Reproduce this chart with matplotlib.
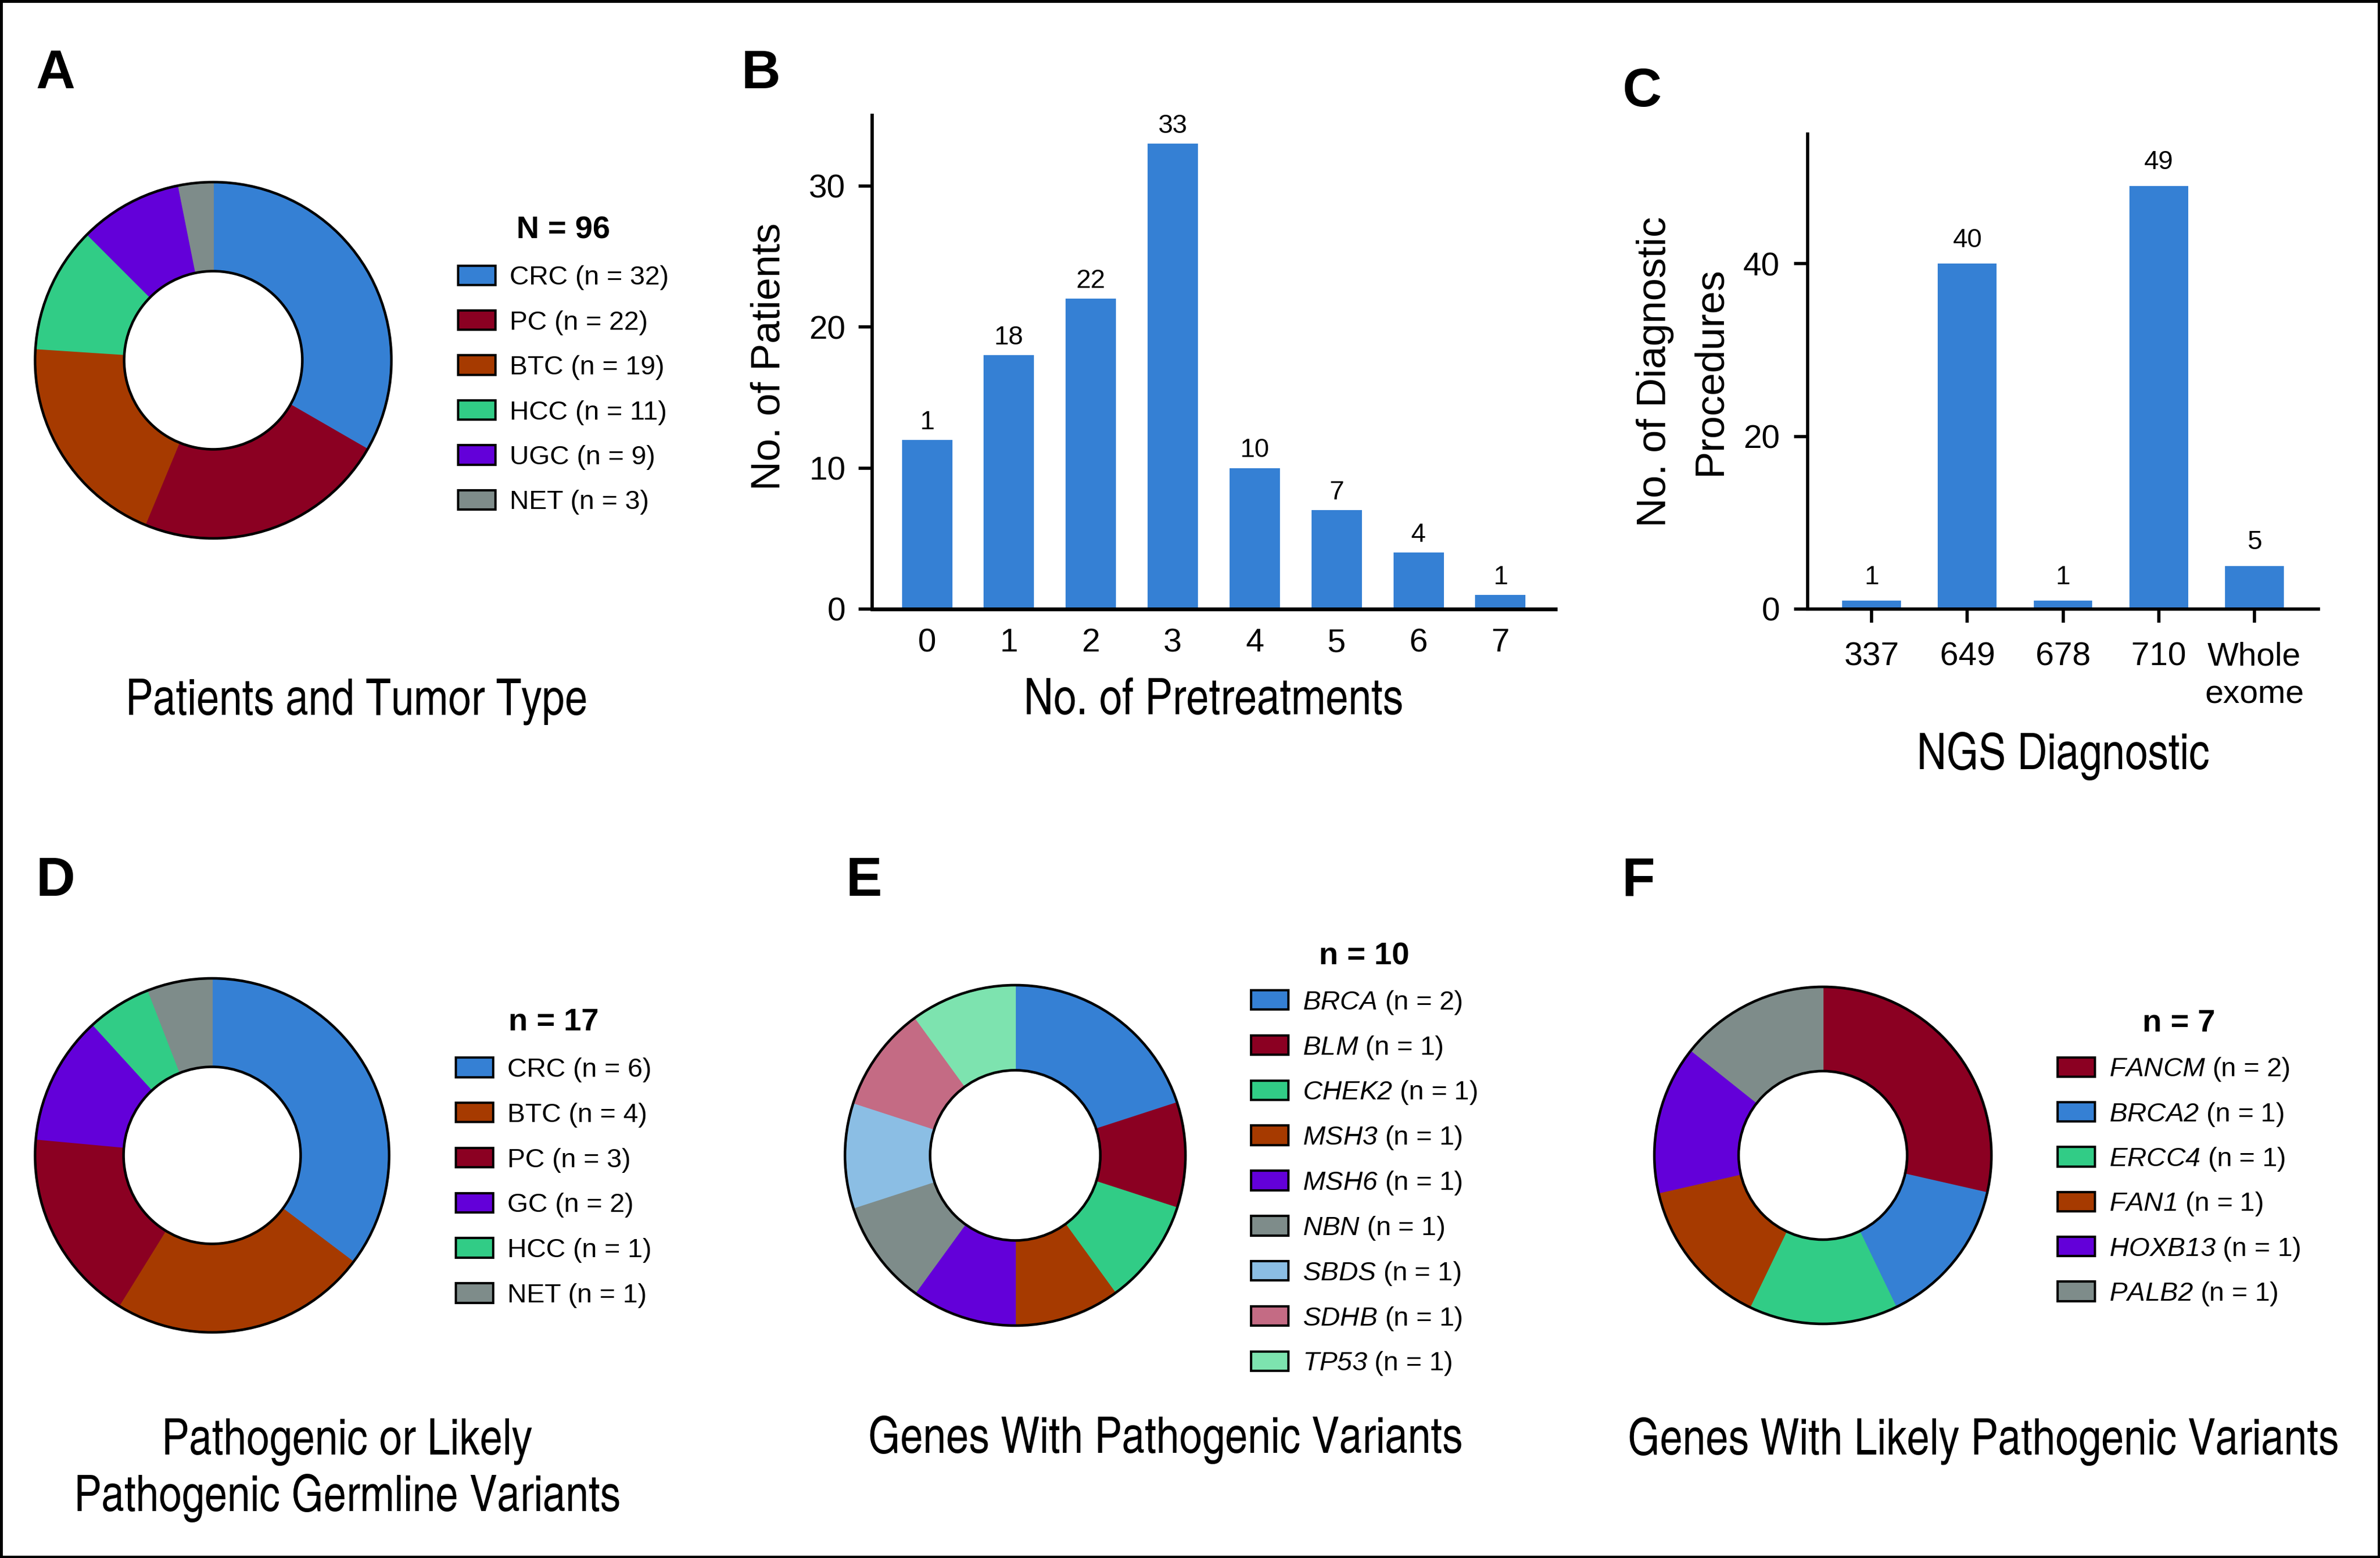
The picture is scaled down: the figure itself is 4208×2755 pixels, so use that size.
import numpy as np
import matplotlib
matplotlib.use('Agg')
import matplotlib.pyplot as plt
from matplotlib import font_manager as fm
from matplotlib.patches import Circle, Patch, Rectangle

# ---------------- data ----------------
tumor_types = ['CRC', 'PC', 'BTC', 'HCC', 'UGC', 'NET']
tumor_counts = [32, 22, 19, 11, 9, 3]

pretreat_cats = ['0', '1', '2', '3', '4', '5', '6', '7']
pretreat_counts = [12, 18, 22, 33, 10, 7, 4, 1]
pretreat_labels = ['1', '18', '22', '33', '10', '7', '4', '1']

ngs_cats = ['337', '649', '678', '710', 'Whole\nexome']
ngs_counts = [1, 40, 1, 49, 5]
ngs_labels = ['1', '40', '1', '49', '5']

germ_types = ['CRC', 'BTC', 'PC', 'GC', 'HCC', 'NET']
germ_counts = [6, 4, 3, 2, 1, 1]

path_genes = ['BRCA', 'BLM', 'CHEK2', 'MSH3', 'MSH6', 'NBN', 'SBDS', 'SDHB', 'TP53']
path_counts = [2, 1, 1, 1, 1, 1, 1, 1, 1]

lpath_genes = ['FANCM', 'BRCA2', 'ERCC4', 'FAN1', 'HOXB13', 'PALB2']
lpath_counts = [2, 1, 1, 1, 1, 1]

# ---------------- style ----------------
BLUE = '#3580D4'
DRED = '#8B0022'
ORNG = '#A63A00'
GREEN = '#31CC86'
PURP = '#6300D9'
GREY = '#7E8C8A'
LBLUE = '#8BBEE4'
PINK = '#C46B84'
LGREEN = '#7DE3AF'

tumor_colors = [BLUE, DRED, ORNG, GREEN, PURP, GREY]
germ_colors = [BLUE, ORNG, DRED, PURP, GREEN, GREY]
path_colors = [BLUE, DRED, GREEN, ORNG, PURP, GREY, LBLUE, PINK, LGREEN]
lpath_colors = [DRED, BLUE, GREEN, ORNG, PURP, GREY]

_avail = {f.name for f in fm.fontManager.ttflist}


def pick(cands, default):
    for c in cands:
        if c in _avail:
            return c
    return default


COND = pick(['Nimbus Sans Narrow', 'TeX Gyre Heros Cn', 'TeX Gyre Heros Cnd',
             'Liberation Sans Narrow', 'Arial Narrow', 'Roboto Condensed',
             'Archivo Narrow', 'PT Sans Narrow', 'Fira Sans Condensed',
             'IBM Plex Sans Condensed', 'Open Sans Condensed',
             'Encode Sans Condensed'], 'DejaVu Sans')
REGF = pick(['Nimbus Sans', 'Helvetica', 'Arimo', 'Liberation Sans', 'Roboto'],
            'DejaVu Sans')

NARROW = [COND, 'DejaVu Sans']
REG = [REGF, 'DejaVu Sans']

plt.rcParams['font.family'] = REG
plt.rcParams['mathtext.fontset'] = 'custom'
plt.rcParams['mathtext.rm'] = f'{REGF}:italic'
plt.rcParams['mathtext.it'] = f'{REGF}:italic'
plt.rcParams['mathtext.bf'] = f'{REGF}:bold'

W, H = 4208, 2755
DPI = 300
fig = plt.figure(figsize=(W / DPI, H / DPI), dpi=DPI)
fig.patch.set_facecolor('white')


def rect(x0, y0, x1, y1):
    return [x0 / W, 1 - y1 / H, (x1 - x0) / W, (y1 - y0) / H]


LEG_FS = 11.4
LEG_TFS = 13.4


def donut(cx, cy, R, values, colors, labels, title, lx, ly, lspace):
    lim = 1.04
    half = R * lim
    ax = fig.add_axes(rect(cx - half, cy - half, cx + half, cy + half))
    wedges, _ = ax.pie(values, colors=colors, startangle=90, counterclock=False,
                       radius=1, wedgeprops=dict(width=0.5, linewidth=0.5))
    for w in wedges:
        w.set_edgecolor(w.get_facecolor())
    ax.add_patch(Circle((0, 0), 1, fill=False, ec='black', lw=1.1, zorder=5))
    ax.add_patch(Circle((0, 0), 0.5, fill=False, ec='black', lw=1.1, zorder=5))
    ax.set_xlim(-lim, lim)
    ax.set_ylim(-lim, lim)
    ax.set_aspect('equal')
    ax.axis('off')
    handles = [Patch(facecolor=w.get_facecolor(), edgecolor='black', linewidth=1.0)
               for w in wedges]
    ax.legend(handles, labels, title=title, loc='upper left',
              bbox_to_anchor=(lx / W, 1 - ly / H), bbox_transform=fig.transFigure,
              frameon=False, fontsize=LEG_FS,
              title_fontproperties={'family': REG, 'weight': 'bold', 'size': LEG_TFS},
              handlelength=1.39, handleheight=0.74, handletextpad=0.53,
              labelspacing=lspace, borderpad=0, borderaxespad=0)
    return ax


# A
donut(377, 637, 315, tumor_counts, tumor_colors,
      [f'{t} (n = {n})' for t, n in zip(tumor_types, tumor_counts)],
      f'N = {sum(tumor_counts)}', 810, 382, 0.745)
# D
donut(375, 2043, 313, germ_counts, germ_colors,
      [f'{t} (n = {n})' for t, n in zip(germ_types, germ_counts)],
      f'n = {sum(germ_counts)}', 806, 1782, 0.755)
# E
donut(1795, 2043, 301, path_counts, path_colors,
      [rf'$\mathrm{{{g}}}$ (n = {n})' for g, n in zip(path_genes, path_counts)],
      f'n = {sum(path_counts)}', 2212, 1665, 0.67)
# F
donut(3223, 2043, 298, lpath_counts, lpath_colors,
      [rf'$\mathrm{{{g}}}$ (n = {n})' for g, n in zip(lpath_genes, lpath_counts)],
      f'n = {sum(lpath_counts)}', 3638, 1784, 0.66)

TICK_FS = 14.0
LAB_FS = 21.3      # condensed x labels
YLAB_FS = 17.3     # regular y labels
VAL_FS = 11.2

# B
axB = fig.add_axes(rect(1542, 204, 2750, 1077))
xb = np.arange(len(pretreat_cats))
barsB = axB.bar(xb, pretreat_counts, width=0.615, color=BLUE, linewidth=0)
axB.set_xlim(-0.67, 7.67)
axB.set_ylim(0, 35)
axB.set_xticks(xb, pretreat_cats)
axB.set_yticks([0, 10, 20, 30])
for b, l in zip(barsB, pretreat_labels):
    axB.annotate(l, (b.get_x() + b.get_width() / 2, b.get_height()), xytext=(0, 4.6),
                 textcoords='offset points', ha='center', va='baseline',
                 fontsize=VAL_FS, family=REG)
for s in ['top', 'right']:
    axB.spines[s].set_visible(False)
axB.spines['left'].set_linewidth(1.4)
axB.spines['bottom'].set_linewidth(1.6)
axB.tick_params(axis='x', length=0, pad=8.0, labelsize=TICK_FS)
axB.tick_params(axis='y', length=5.8, width=1.35, pad=5.5, labelsize=TICK_FS)
axB.set_ylabel('No. of Patients', fontsize=YLAB_FS, family=REG)
axB.yaxis.set_label_coords(-0.123, 0.512)
axB.set_xlabel('No. of Pretreatments', fontsize=LAB_FS, family=NARROW)
axB.xaxis.set_label_coords(0.5, -0.14)

# C
axC = fig.add_axes(rect(3196, 237, 4099, 1077))
xc = np.arange(len(ngs_cats))
barsC = axC.bar(xc, ngs_counts, width=0.615, color=BLUE, linewidth=0)
axC.set_xlim(-0.67, 4.67)
axC.set_ylim(0, 55)
axC.set_xticks(xc, ngs_cats)
axC.set_yticks([0, 20, 40])
for lbl in axC.get_xticklabels():
    lbl.set_linespacing(1.3)
for b, l in zip(barsC, ngs_labels):
    axC.annotate(l, (b.get_x() + b.get_width() / 2, b.get_height()), xytext=(0, 7),
                 textcoords='offset points', ha='center', va='baseline',
                 fontsize=VAL_FS, family=REG)
for s in ['top', 'right']:
    axC.spines[s].set_visible(False)
axC.spines['left'].set_linewidth(1.35)
axC.spines['bottom'].set_linewidth(1.4)
axC.tick_params(axis='x', length=5.8, width=1.35, pad=8, labelsize=TICK_FS)
axC.tick_params(axis='y', length=5.8, width=1.35, pad=6, labelsize=TICK_FS)
axC.set_ylabel('No. of Diagnostic\nProcedures', fontsize=YLAB_FS, family=REG,
               linespacing=1.6)
axC.yaxis.set_label_coords(-0.153, 0.5)
axC.set_xlabel('NGS Diagnostic', fontsize=LAB_FS, family=NARROW)
axC.xaxis.set_label_coords(0.5, -0.258)

# panel titles
TITLE_FS = 21.3
titles = [('Patients and Tumor Type', 631, 1264),
          ('Pathogenic or Likely', 614, 2572),
          ('Pathogenic Germline Variants', 614, 2672),
          ('Genes With Pathogenic Variants', 2061, 2569),
          ('Genes With Likely Pathogenic Variants', 3507, 2572)]
for t, x, y in titles:
    fig.text(x / W, 1 - y / H, t, ha='center', va='baseline', fontsize=TITLE_FS,
             family=NARROW)

# panel letters
letters = [('A', 98, 156), ('B', 1345, 156), ('C', 2903, 188),
           ('D', 98, 1584), ('E', 1528, 1584), ('F', 2897, 1584)]
for t, x, y in letters:
    fig.text(x / W, 1 - y / H, t, ha='center', va='baseline', fontsize=23,
             fontweight='bold', family=REG)

# border
fig.patches.append(Rectangle((0, 0), 1, 1, transform=fig.transFigure, fill=False,
                             ec='black', lw=2.2, zorder=10))

fig.savefig('out.png', dpi=DPI, facecolor='white')
